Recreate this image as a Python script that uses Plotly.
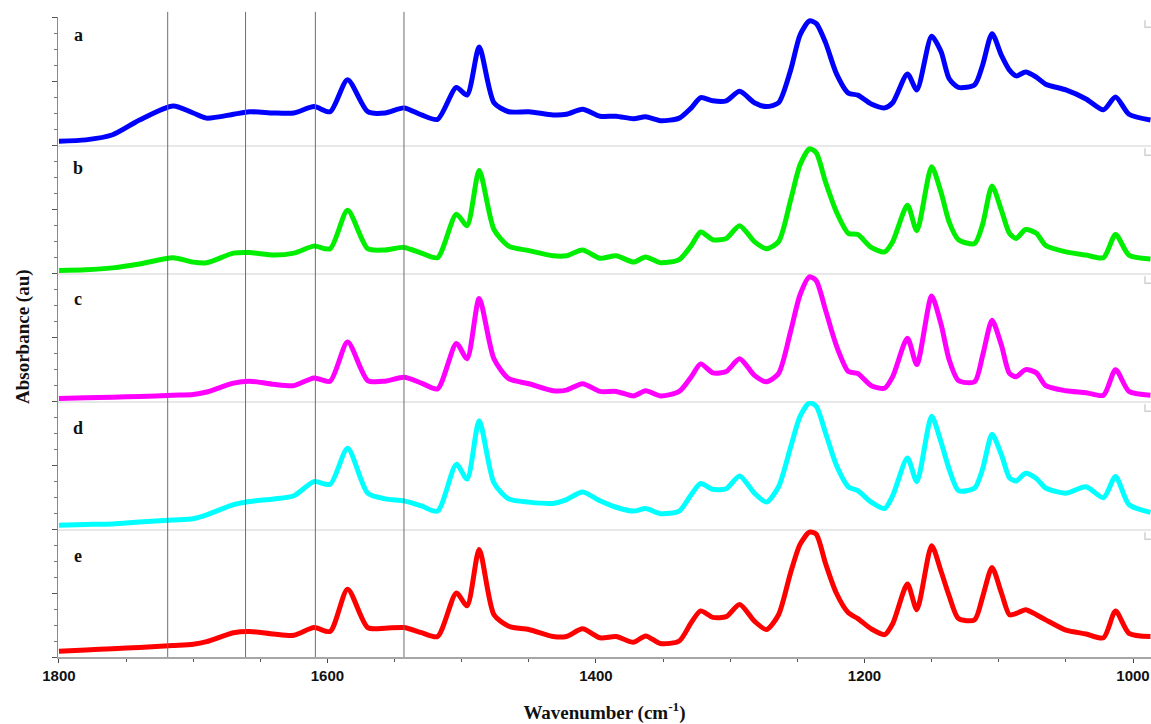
import plotly.graph_objects as go
from plotly.subplots import make_subplots

# Wavenumber grid (cm-1) shared by all spectra
WAVENUMBER = [
    1800, 1780, 1760, 1740, 1715, 1700, 1690, 1670, 1658, 1640,
    1625, 1610, 1598, 1585, 1570, 1557, 1543, 1530, 1518, 1504,
    1496, 1487, 1476, 1465, 1450, 1432, 1422, 1410, 1397, 1385,
    1372, 1363, 1352, 1338, 1329, 1322, 1313, 1303, 1293, 1282,
    1273, 1264, 1255, 1248, 1241, 1236, 1229, 1221, 1212, 1205,
    1195, 1185, 1179, 1168, 1161, 1150, 1143, 1137, 1130, 1118,
    1112, 1105, 1098, 1092, 1087, 1080, 1072, 1065, 1050, 1035,
    1022, 1013, 1003, 987,
]

ABS_A = [
    0.03, 0.04, 0.08, 0.195, 0.305, 0.25, 0.21, 0.24, 0.26, 0.25,
    0.25, 0.30, 0.26, 0.51, 0.26, 0.25, 0.29, 0.235, 0.20, 0.45,
    0.39, 0.765, 0.33, 0.26, 0.26, 0.235, 0.24, 0.28, 0.225, 0.225,
    0.205, 0.22, 0.19, 0.21, 0.29, 0.37, 0.345, 0.345, 0.42, 0.33,
    0.30, 0.33, 0.585, 0.86, 0.97, 0.95, 0.80, 0.56, 0.405, 0.39,
    0.32, 0.29, 0.33, 0.555, 0.43, 0.85, 0.73, 0.52, 0.45, 0.47,
    0.625, 0.87, 0.70, 0.585, 0.54, 0.57, 0.53, 0.475, 0.43, 0.36,
    0.275, 0.375, 0.24, 0.195,
]

ABS_B = [
    0.02, 0.025, 0.04, 0.07, 0.12, 0.085, 0.08, 0.155, 0.16, 0.14,
    0.155, 0.21, 0.19, 0.49, 0.19, 0.18, 0.20, 0.155, 0.12, 0.46,
    0.37, 0.80, 0.34, 0.21, 0.175, 0.135, 0.135, 0.18, 0.115, 0.135,
    0.085, 0.125, 0.08, 0.105, 0.215, 0.32, 0.26, 0.27, 0.37, 0.245,
    0.19, 0.245, 0.57, 0.845, 0.97, 0.94, 0.71, 0.48, 0.31, 0.30,
    0.20, 0.165, 0.245, 0.53, 0.33, 0.83, 0.63, 0.40, 0.26, 0.23,
    0.38, 0.68, 0.49, 0.31, 0.27, 0.34, 0.31, 0.215, 0.165, 0.14,
    0.12, 0.30, 0.14, 0.11,
]

ABS_C = [
    0.02, 0.025, 0.03, 0.035, 0.045, 0.05, 0.07, 0.14, 0.155, 0.13,
    0.12, 0.18, 0.155, 0.46, 0.16, 0.155, 0.185, 0.14, 0.095, 0.45,
    0.33, 0.80, 0.33, 0.175, 0.135, 0.08, 0.085, 0.135, 0.075, 0.075,
    0.04, 0.08, 0.04, 0.075, 0.19, 0.29, 0.22, 0.23, 0.33, 0.20,
    0.15, 0.215, 0.545, 0.83, 0.97, 0.94, 0.71, 0.435, 0.23, 0.215,
    0.12, 0.10, 0.19, 0.49, 0.285, 0.82, 0.60, 0.325, 0.16, 0.15,
    0.355, 0.63, 0.435, 0.215, 0.19, 0.245, 0.22, 0.12, 0.08, 0.065,
    0.045, 0.245, 0.075, 0.045,
]

ABS_D = [
    0.03, 0.035, 0.04, 0.055, 0.07, 0.08, 0.11, 0.19, 0.215, 0.235,
    0.26, 0.37, 0.35, 0.63, 0.28, 0.235, 0.22, 0.18, 0.14, 0.505,
    0.39, 0.845, 0.36, 0.235, 0.21, 0.20, 0.23, 0.29, 0.22, 0.17,
    0.14, 0.16, 0.12, 0.14, 0.27, 0.355, 0.31, 0.315, 0.415, 0.28,
    0.21, 0.33, 0.64, 0.88, 0.985, 0.96, 0.75, 0.50, 0.33, 0.30,
    0.21, 0.16, 0.26, 0.555, 0.37, 0.88, 0.68, 0.47, 0.30, 0.32,
    0.47, 0.74, 0.58, 0.40, 0.375, 0.435, 0.395, 0.32, 0.28, 0.33,
    0.245, 0.41, 0.19, 0.13,
]

ABS_E = [
    0.045, 0.055, 0.065, 0.075, 0.09, 0.10, 0.12, 0.19, 0.20, 0.18,
    0.17, 0.23, 0.20, 0.53, 0.23, 0.225, 0.23, 0.19, 0.16, 0.50,
    0.40, 0.84, 0.33, 0.24, 0.215, 0.16, 0.16, 0.22, 0.15, 0.16,
    0.115, 0.165, 0.105, 0.125, 0.27, 0.36, 0.31, 0.315, 0.41, 0.28,
    0.215, 0.33, 0.66, 0.88, 0.975, 0.96, 0.73, 0.50, 0.345, 0.30,
    0.22, 0.175, 0.26, 0.57, 0.37, 0.87, 0.67, 0.48, 0.30, 0.29,
    0.47, 0.70, 0.50, 0.33, 0.34, 0.37, 0.33, 0.29, 0.21, 0.18,
    0.15, 0.36, 0.185, 0.16,
]

SAMPLE_LABELS = ["a", "b", "c", "d", "e"]
SPECTRA = [ABS_A, ABS_B, ABS_C, ABS_D, ABS_E]
LINE_COLORS = ["#0000ff", "#00ee00", "#ff00ff", "#00ffff", "#ff0000"]

# Reference band positions (cm-1) marked by vertical guide lines
BAND_MARKERS = [1719, 1661, 1609, 1543]

X_TICKS = [1800, 1600, 1400, 1200, 1000]

SERIF = "Liberation Serif, Times New Roman, serif"
SANS = "Liberation Sans, Arial, sans-serif"

# vertical placement of each sample letter inside its panel (fraction of panel height)
LABEL_Y = [0.86, 0.82, 0.80, 0.79, 0.79]

n_rows = len(SPECTRA)
fig = make_subplots(rows=n_rows, cols=1, shared_xaxes=True, vertical_spacing=0)

for i, (label, ys, color) in enumerate(zip(SAMPLE_LABELS, SPECTRA, LINE_COLORS)):
    row = i + 1
    fig.add_trace(
        go.Scatter(
            x=WAVENUMBER, y=ys, mode="lines", name=label,
            line=dict(color=color, width=5, shape="spline", smoothing=0.7),
            showlegend=False,
        ),
        row=row, col=1,
    )
    fig.update_yaxes(
        row=row, col=1, range=[0, 1], showgrid=False, zeroline=False,
        showticklabels=False, showline=True, linecolor="#8a8a8a", linewidth=1,
        ticks="outside", ticklen=5, tickwidth=1, tickcolor="#555555",
        tickvals=[0, 0.5, 1],
        minor=dict(ticks="outside", ticklen=3, tickcolor="#777777", dtick=0.125, tick0=0),
    )
    is_bottom = row == n_rows
    fig.update_xaxes(
        row=row, col=1, range=[1800.7, 986.6], showgrid=False, zeroline=False,
        showline=True, linewidth=2,
        linecolor="#a6a6a6" if is_bottom else "#e8e8e8",
        ticks="outside" if is_bottom else "", ticklen=4, tickcolor="#444444",
        tickvals=X_TICKS, showticklabels=is_bottom,
        tickfont=dict(family=SANS, size=15, color="#111111", weight="bold"),
        minor=dict(ticks="outside" if is_bottom else "", ticklen=3,
                   tickcolor="#555555", dtick=50, tick0=1000),
    )
    # sample letter in the upper-left corner of each panel
    fig.add_annotation(
        text=label, xref="x domain", yref="y domain",
        x=0.0185, y=LABEL_Y[i], xanchor="center", yanchor="middle", showarrow=False,
        font=dict(family=SERIF, size=18, color="#111111", weight="bold"),
        row=row, col=1,
    )
    # small corner bracket at the upper-right of each panel
    fig.add_shape(
        type="path", xref="x domain", yref="y domain",
        path="M 0.9945 0.975 L 0.9945 0.92 L 1.0 0.92",
        line=dict(color="#d0d0d0", width=1.5),
        row=row, col=1,
    )

fig.update_xaxes(
    title_text="Wavenumber (cm<sup>-1</sup>)",
    title_font=dict(family=SERIF, size=19, color="#111111", weight="bold"),
    title_standoff=24, row=n_rows, col=1,
)

for wn in BAND_MARKERS:
    fig.add_shape(
        type="line", xref="x5", yref="paper", x0=wn, x1=wn, y0=0, y1=1.008,
        line=dict(color="#6e6e6e", width=1),
    )

fig.add_annotation(
    text="Absorbance (au)", xref="paper", yref="paper",
    x=-0.032, y=0.5, textangle=-90, showarrow=False,
    xanchor="center", yanchor="middle",
    font=dict(family=SERIF, size=19, color="#111111", weight="bold"),
)

fig.update_layout(
    width=1151, height=724,
    margin=dict(l=58, r=0, t=17, b=67),
    paper_bgcolor="white", plot_bgcolor="white",
)

fig.write_html("out.html")
